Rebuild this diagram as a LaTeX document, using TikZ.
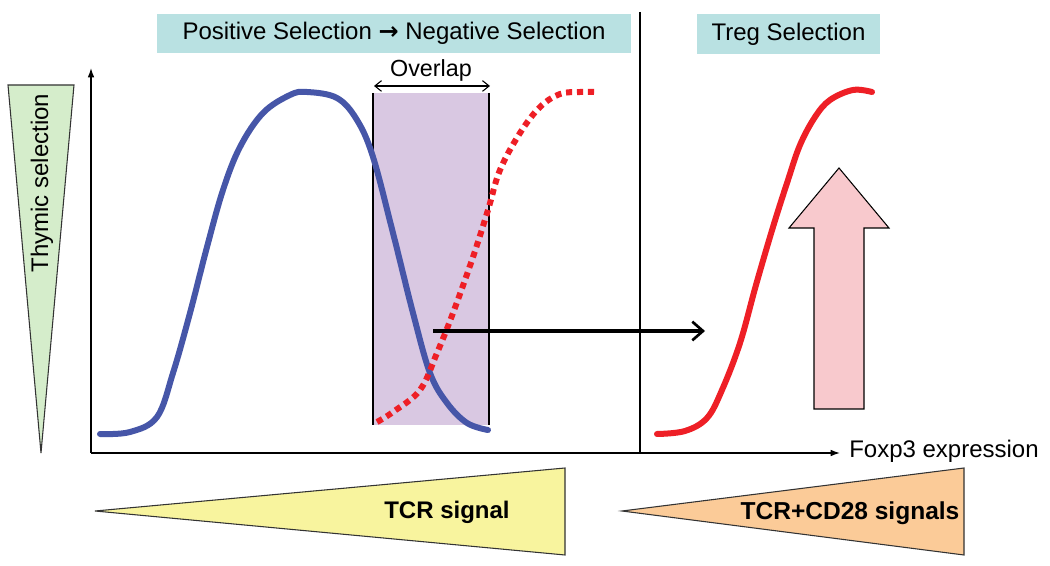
\documentclass[tikz,border=0pt]{standalone}
\usepackage{fontspec}
\setmainfont{Liberation Sans}
\newfontfamily\arrowfont{DejaVu Sans}
\usetikzlibrary{arrows.meta}
\definecolor{thygreen}{HTML}{D5EDCB}
\definecolor{tcryellow}{HTML}{F8F49E}
\definecolor{tcrorange}{HTML}{FBCB98}
\definecolor{boxblue}{HTML}{B9E1E2}
\definecolor{ovpurple}{HTML}{D9C8E2}
\definecolor{curveblue}{HTML}{4656A8}
\definecolor{curvered}{HTML}{EE1F26}
\definecolor{arrowpink}{HTML}{F8C9CD}
\tikzset{
  lbl/.style={font=\fontsize{18pt}{20pt}\selectfont, inner sep=0pt},
  titlebox/.style={fill=boxblue, inner sep=0pt, font=\fontsize{18pt}{20pt}\selectfont},
  wedge/.style={draw=black!80, line width=0.8pt},
  axis/.style={line width=1pt, -{Latex[length=7pt,width=5pt]}},
  curve/.style={line width=4.5pt, line cap=round},
}
\begin{document}
\begin{tikzpicture}[x=0.75pt,y=-0.75pt]
\useasboundingbox[fill=white] (0,0) rectangle (1050,566);

% title boxes
\node[titlebox, minimum width=474*0.75pt, minimum height=39*0.75pt] (pos) at (394,33.5) {Positive Selection {\arrowfont\bfseries →} Negative Selection};
\node[titlebox, minimum width=183*0.75pt, minimum height=40*0.75pt] (treg) at (788.5,34) {Treg Selection};

% overlap region
\fill[ovpurple] (373,93) rectangle (489,425);
\coordinate (ovl) at (373,93);
\coordinate (ovr) at (489,93);
\coordinate (ovlb) at (373,425);
\coordinate (ovrb) at (489,425);
\draw[line width=1.5pt] (ovl) -- (ovlb);
\draw[line width=1.5pt] (ovr) -- (ovrb);
\coordinate (oal) at (374,86);
\coordinate (oar) at (490,86);
\draw[line width=0.8pt, {Straight Barb[length=5pt,width=8pt]}-{Straight Barb[length=5pt,width=8pt]}] (oal) -- (oar);
\node[lbl, font=\fontsize{17.5pt}{20pt}\selectfont] (ovtxt) at (431,70) {Overlap};

% green wedge
\draw[wedge, fill=thygreen] (8,85) -- (74,85) -- (41,453) -- cycle;
\node[lbl, rotate=90] (thy) at (42,183) {Thymic selection};

% axes
\coordinate (origin) at (91,453);
\coordinate (ytop) at (91,68);
\coordinate (xend) at (840,453);
\draw[axis] (origin) -- (ytop);
\draw[axis] (origin) -- (xend);
\node[lbl, anchor=west] (foxp3) at (849,451) {Foxp3 expression};

% separator
\coordinate (septop) at (640,12);
\coordinate (sepbot) at (640,453);
\draw[line width=2pt] (septop) -- (sepbot);

% blue curve
\draw[curve, curveblue] plot[smooth, tension=0.6] coordinates {
 (100,434) (130,432) (157,417) (173,373) (190,313) (207,247) (223,190) (240,147)
 (263,113) (290,95) (307,92) (337,98) (357,120) (373,157) (393,233) (413,313)
 (430,373) (447,403) (467,423) (488,430)};

% red dotted curve
\draw[curve, curvered, line cap=butt, dash pattern=on 4.6pt off 3.6pt] plot[smooth, tension=0.6] coordinates {
 (377,422) (393,412) (420,390) (437,353) (453,313) (473,257) (488,210) (500,170)
 (520,133) (540,107) (560,94) (580,92) (598,92)};

% horizontal arrow
\coordinate (harrs) at (433,331);
\coordinate (harre) at (705,331);
\draw[line width=2.5pt, -{Straight Barb[length=8pt,width=14pt,line width=2pt]}] (harrs) -- (harre);

% red solid curve
\draw[curve, curvered] plot[smooth, tension=0.6] coordinates {
 (657,434) (685,431) (707,418) (722,390) (740,343) (756,285) (773,227) (788,180) (800,145)
 (815,117) (830,100) (853,90) (872,92)};

% pink arrow
\draw[line width=0.8pt, fill=arrowpink] (814,409) -- (814,228) -- (789,228) -- (839,168) -- (889,228) -- (864,228) -- (864,409) -- cycle;

% bottom wedges
\draw[wedge, fill=tcryellow] (95,511) -- (565,468) -- (565,555) -- cycle;
\node[lbl, font=\bfseries\fontsize{18pt}{20pt}\selectfont] (tcr) at (447,512) {TCR signal};
\draw[wedge, fill=tcrorange] (622,511) -- (964,468) -- (964,555) -- cycle;
\node[lbl, font=\bfseries\fontsize{18.4pt}{20pt}\selectfont] (tcrcd) at (850,513) {TCR+CD28 signals};
\end{tikzpicture}
\end{document}
